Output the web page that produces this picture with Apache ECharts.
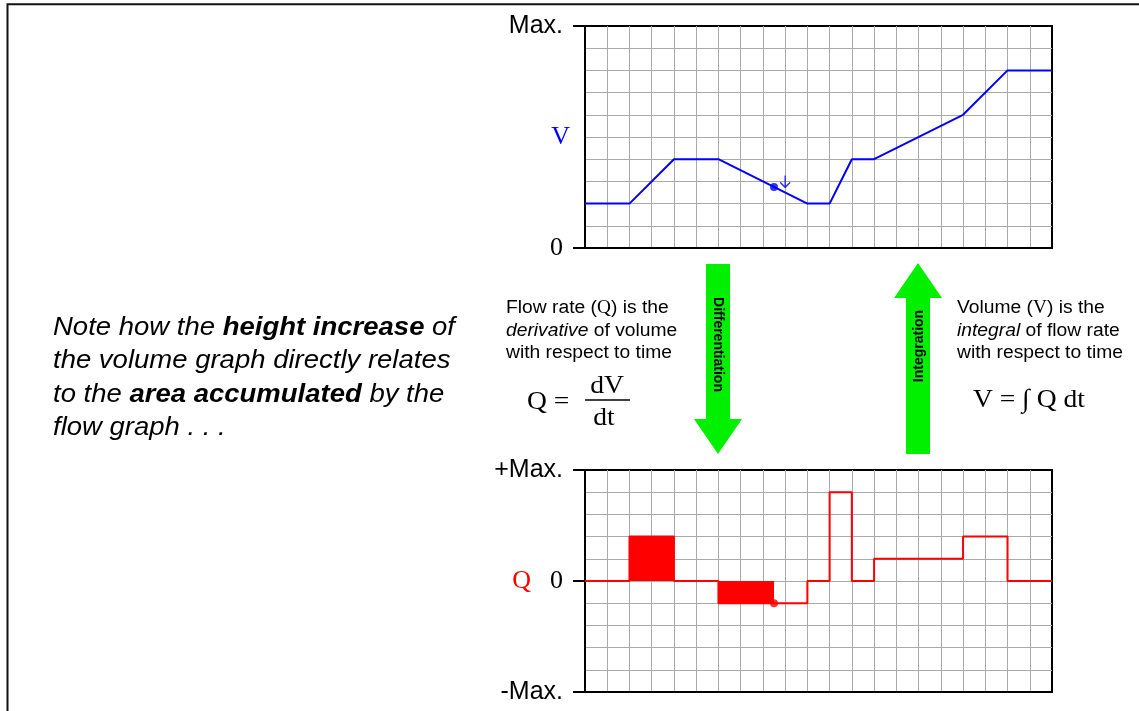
<!DOCTYPE html>
<html><head><meta charset="utf-8">
<script src="https://cdn.jsdelivr.net/npm/echarts@6/dist/echarts.min.js"></script>
<style>html,body{margin:0;padding:0;background:#fff}#c{width:1139px;height:711px}</style>
</head><body><div id="c"></div>
<script>
// ---- data ----
const volumeX = [0, 2, 4, 6, 10, 11, 12, 13, 17, 19, 21];
const volumeY = [2, 2, 4, 4, 2, 2, 4, 4, 6, 8, 8];
const flowX = [0, 2, 4, 6, 10, 11, 12, 13, 17, 19, 21];
const flowY = [0, 2, 0, -1, 0, 4, 0, 1, 2, 0, 0];
const flowAreaA = [[2, 2], [4, 2]];
const flowAreaB = [[6, -1], [8.5, -1]];
const markerV = [[8.5, 2.75]];
const markerQ = [[8.5, -1]];
const arrowV = [[9.0, 3.0]];
const volTickLabels = { '0': '0', '10': 'Max.' };
const flowTickLabels = { '-5': '-Max.', '0': '0', '5': '+Max.' };
const volName = 'V';
const flowName = 'Q';

const SANS = 'Liberation Sans, Arial, sans-serif';
const SERIF = 'Liberation Serif, Times New Roman, serif';
const BLUE = '#0000ff', RED = '#ff0000', GREEN = '#00f000';

const zip = (a, b) => a.map((v, i) => [v, b[i]]);

function xAxisDef(gi) {
  return {
    gridIndex: gi, type: 'value', min: 0, max: 21, interval: 1,
    axisLabel: { show: false }, axisTick: { show: false },
    axisLine: { show: true, onZero: false, lineStyle: { color: '#000', width: 2 } },
    splitLine: { show: true, showMinLine: false, showMaxLine: false, lineStyle: { color: '#aaaaaa', width: 1 } }
  };
}
function yGridAxis(gi, min, max, name, color, gap) {
  return {
    gridIndex: gi, type: 'value', min: min, max: max, interval: 1, position: 'left',
    axisLabel: { show: false }, axisTick: { show: false },
    axisLine: { show: true, onZero: false, lineStyle: { color: '#000', width: 2 } },
    splitLine: { show: true, showMinLine: false, showMaxLine: false, lineStyle: { color: '#aaaaaa', width: 1 } },
    name: name, nameLocation: 'middle', nameGap: gap, nameRotate: 0,
    nameTextStyle: { color: color, fontFamily: SERIF, fontSize: 26 }
  };
}
function yTickAxis(gi, min, max, interval, labels) {
  return {
    gridIndex: gi, type: 'value', min: min, max: max, interval: interval, position: 'left',
    axisLine: { show: false, onZero: false },
    splitLine: { show: false },
    axisTick: { show: true, length: 12, lineStyle: { color: '#000', width: 2 } },
    axisLabel: {
      show: true, margin: 22,
      formatter: v => {
        const t = labels[String(v)];
        if (t === undefined) return '';
        return t === '0' ? '{r|0}' : '{s|' + t + '}';
      },
      rich: {
        r: { fontFamily: SERIF, fontSize: 26, color: '#000' },
        s: { fontFamily: SANS, fontSize: 25, color: '#000' }
      }
    }
  };
}

const chart = echarts.init(document.getElementById('c'), null, { renderer: 'canvas' });
chart.setOption({
  animation: false,
  backgroundColor: '#fff',
  grid: [
    { left: 585, top: 26, width: 467, height: 222, show: true, borderColor: '#000', borderWidth: 2, backgroundColor: 'transparent' },
    { left: 585, top: 470, width: 467, height: 222, show: true, borderColor: '#000', borderWidth: 2, backgroundColor: 'transparent' }
  ],
  xAxis: [xAxisDef(0), xAxisDef(1)],
  yAxis: [
    yGridAxis(0, 0, 10, volName, BLUE, 15),
    yTickAxis(0, 0, 10, 10, volTickLabels),
    yGridAxis(1, -5, 5, flowName, RED, 54),
    yTickAxis(1, -5, 5, 5, flowTickLabels)
  ],
  series: [
    { type: 'line', xAxisIndex: 0, yAxisIndex: 0, data: zip(volumeX, volumeY), showSymbol: false,
      lineStyle: { color: BLUE, width: 2 }, z: 5 },
    { type: 'scatter', xAxisIndex: 0, yAxisIndex: 0, data: markerV, symbolSize: 8,
      itemStyle: { color: BLUE }, z: 6 },
    { type: 'scatter', xAxisIndex: 0, yAxisIndex: 0, data: arrowV,
      symbol: 'path://M5,0L5,12M0,7L5,12L10,7', symbolSize: [10, 12],
      itemStyle: { color: 'none', borderColor: BLUE, borderWidth: 1.5 }, z: 6 },
    { type: 'line', xAxisIndex: 1, yAxisIndex: 2, data: flowAreaA, showSymbol: false,
      lineStyle: { width: 0 }, areaStyle: { color: RED, opacity: 1 }, z: 3 },
    { type: 'line', xAxisIndex: 1, yAxisIndex: 2, data: flowAreaB, showSymbol: false,
      lineStyle: { width: 0 }, areaStyle: { color: RED, opacity: 1 }, z: 3 },
    { type: 'line', xAxisIndex: 1, yAxisIndex: 2, data: zip(flowX, flowY), step: 'end', showSymbol: false,
      lineStyle: { color: RED, width: 2 }, z: 5 },
    { type: 'scatter', xAxisIndex: 1, yAxisIndex: 2, data: markerQ, symbolSize: 8,
      itemStyle: { color: RED }, z: 6 }
  ],
  graphic: [
    { type: 'polyline', silent: true, shape: { points: [[7.5, 711], [7.5, 4.3], [1139, 4.3]] },
      style: { stroke: '#111', lineWidth: 2, fill: null } },
    // left note
    { type: 'text', silent: true, x: 53, y: 311, scaleX: 1.1,
      style: {
        text: '{n|Note how the }{b|height increase}{n| of}\n{n|the volume graph directly relates}\n{n|to the }{b|area accumulated}{n| by the}\n{n|flow graph . . .}',
        rich: {
          n: { fontFamily: SANS, fontStyle: 'italic', fontSize: 25, color: BLUE, lineHeight: 33.5 },
          b: { fontFamily: SANS, fontStyle: 'italic', fontWeight: 'bold', fontSize: 25, color: BLUE, lineHeight: 33.5 }
        }
      } },
    // derivative text
    { type: 'text', silent: true, x: 506, y: 297, scaleX: 1.07,
      style: {
        text: '{a|Flow rate (}{q|Q}{a|) is the}\n{i|derivative}{a| of volume}\n{a|with respect to time}',
        rich: {
          a: { fontFamily: SANS, fontSize: 18, color: '#000', lineHeight: 22.5 },
          q: { fontFamily: SERIF, fontSize: 18, color: '#000', lineHeight: 22.5 },
          i: { fontFamily: SANS, fontStyle: 'italic', fontSize: 18, color: '#000', lineHeight: 22.5 }
        }
      } },
    { type: 'text', silent: true, x: 527, y: 402, scaleX: 1.06,
      style: { text: 'Q =', fontFamily: SERIF, fontSize: 26, fill: '#000', verticalAlign: 'middle' } },
    { type: 'text', silent: true, x: 607, y: 386, scaleX: 1.06,
      style: { text: 'dV', fontFamily: SERIF, fontSize: 26, fill: '#000', align: 'center', verticalAlign: 'middle' } },
    { type: 'line', silent: true, shape: { x1: 585, y1: 400, x2: 630, y2: 400 }, style: { stroke: '#000', lineWidth: 1.5 } },
    { type: 'text', silent: true, x: 604, y: 418, scaleX: 1.06,
      style: { text: 'dt', fontFamily: SERIF, fontSize: 26, fill: '#000', align: 'center', verticalAlign: 'middle' } },
    // integral text
    { type: 'text', silent: true, x: 957, y: 297, scaleX: 1.07,
      style: {
        text: '{a|Volume (}{q|V}{a|) is the}\n{i|integral}{a| of flow rate}\n{a|with respect to time}',
        rich: {
          a: { fontFamily: SANS, fontSize: 18, color: '#000', lineHeight: 22.5 },
          q: { fontFamily: SERIF, fontSize: 18, color: '#000', lineHeight: 22.5 },
          i: { fontFamily: SANS, fontStyle: 'italic', fontSize: 18, color: '#000', lineHeight: 22.5 }
        }
      } },
    { type: 'text', silent: true, x: 973, y: 400, scaleX: 1.06,
      style: { text: 'V = \u222B Q dt', fontFamily: SERIF, fontSize: 26, fill: '#000', verticalAlign: 'middle' } },
    // arrows
    { type: 'polygon', silent: true,
      shape: { points: [[706, 264], [730, 264], [730, 419], [742, 419], [718, 454], [694, 419], [706, 419]] },
      style: { fill: GREEN } },
    { type: 'polygon', silent: true,
      shape: { points: [[906, 454], [930, 454], [930, 298], [942, 298], [918, 263], [894, 298], [906, 298]] },
      style: { fill: GREEN } },
    { type: 'text', silent: true, x: 718, y: 344.5, rotation: -Math.PI / 2,
      style: { text: 'Differentiation', fontFamily: SANS, fontWeight: 'bold', fontSize: 14, fill: '#000', align: 'center', verticalAlign: 'middle' } },
    { type: 'text', silent: true, x: 919, y: 346, rotation: Math.PI / 2,
      style: { text: 'Integration', fontFamily: SANS, fontWeight: 'bold', fontSize: 14, fill: '#000', align: 'center', verticalAlign: 'middle' } }
  ]
});
</script></body></html>
